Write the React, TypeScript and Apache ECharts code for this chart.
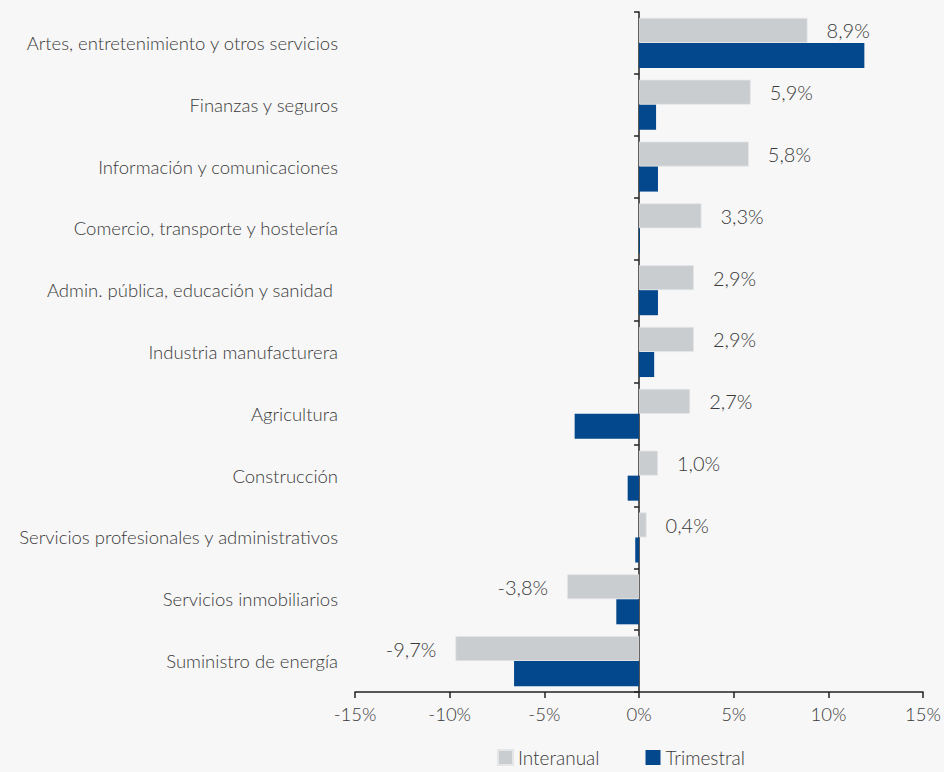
import React, { useEffect, useRef } from "react";
import * as echarts from "echarts";

const categories = [
  "Artes, entretenimiento y otros servicios",
  "Finanzas y seguros",
  "Información y comunicaciones",
  "Comercio, transporte y hostelería",
  "Admin. pública, educación y sanidad ",
  "Industria manufacturera",
  "Agricultura",
  "Construcción",
  "Servicios profesionales y administrativos",
  "Servicios inmobiliarios",
  "Suministro de energía",
];
const interanual = [8.9, 5.9, 5.8, 3.3, 2.9, 2.9, 2.7, 1.0, 0.4, -3.8, -9.7];
const trimestral = [11.9, 0.9, 1.0, 0.05, 1.0, 0.8, -3.4, -0.6, -0.2, -1.2, -6.6];
const xTicks = { min: -15, max: 15, interval: 5 };

const FONT = "Lato";
const TEXT = "#3a3a3a";

export default function App() {
  const ref = useRef<HTMLDivElement>(null);
  useEffect(() => {
    if (!ref.current) return;
    const chart = echarts.init(ref.current, null, { renderer: "svg" });
    const fmt = (v: number) => v.toFixed(1).replace(".", ",") + "%";
    chart.setOption({
      animation: false,
      backgroundColor: "#f7f7f7",
      textStyle: { fontFamily: FONT },
      grid: { left: 355, right: 20, top: 12, bottom: 80, containLabel: false },
      legend: {
        bottom: 0,
        left: 492,
        itemWidth: 15,
        itemHeight: 15,
        itemGap: 46,
        icon: "rect",
        textStyle: { fontFamily: FONT, fontSize: 19, color: TEXT, fontWeight: 300 },
        data: ["Interanual", "Trimestral"],
      },
      xAxis: {
        type: "value",
        min: xTicks.min,
        max: xTicks.max,
        interval: xTicks.interval,
        splitLine: { show: false },
        axisLine: { show: true, lineStyle: { color: "#222", width: 1.5 } },
        axisTick: { show: true, length: 6, lineStyle: { color: "#222", width: 1.5 } },
        axisLabel: {
          formatter: (v: number) => v + "%",
          fontFamily: FONT,
          fontSize: 18.5,
          fontWeight: 300,
          color: TEXT,
          margin: 12,
        },
      },
      yAxis: [
        {
          type: "category",
          data: categories,
          inverse: true,
          position: "left",
          axisLine: { show: true, onZero: true, lineStyle: { color: "#222", width: 1.5 } },
          axisTick: { show: true, length: 5, lineStyle: { color: "#222", width: 1.5 } },
          axisLabel: { show: false },
        },
        {
          type: "category",
          data: categories,
          inverse: true,
          position: "left",
          axisLine: { show: false, onZero: false },
          axisTick: { show: false },
          axisLabel: {
            fontFamily: FONT,
            fontSize: 18.5,
            fontWeight: 300,
            color: TEXT,
            margin: 17,
          },
        },
      ],
      series: [
        {
          name: "Interanual",
          type: "bar",
          data: interanual.map((v) =>
            v < 0 ? { value: v, label: { position: "left" } } : { value: v }
          ),
          yAxisIndex: 0,
          barGap: "0%",
          barCategoryGap: "19%",
          itemStyle: { color: "#c9cdd0", borderColor: "#e4e6e8", borderWidth: 0.8 },
          label: {
            show: true,
            formatter: (p: any) => fmt(p.value),
            fontFamily: FONT,
            fontSize: 20,
            fontWeight: 300,
            color: TEXT,
            distance: 19,
            position: "right",
          },
        },
        {
          name: "Trimestral",
          type: "bar",
          data: trimestral,
          yAxisIndex: 0,
          itemStyle: { color: "#03478c" },
        },
      ],
    });
    return () => chart.dispose();
  }, []);
  return (
    <div
      ref={ref}
      style={{ position: "fixed", left: 0, top: 0, width: 944, height: 772 }}
    />
  );
}
